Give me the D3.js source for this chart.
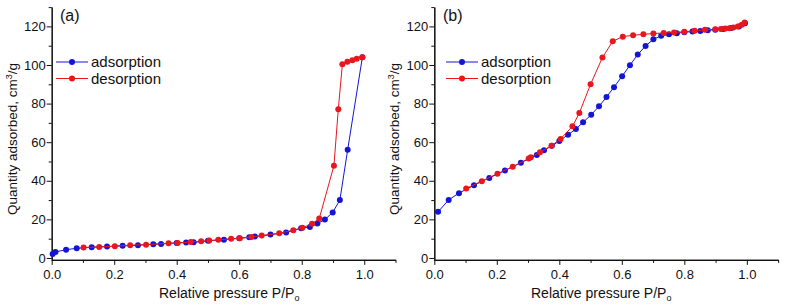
<!DOCTYPE html>
<html>
<head>
<meta charset="utf-8">
<script src="https://cdn.jsdelivr.net/npm/d3@7"></script>
<style>
    body { margin: 0; background: #fff; }
    svg text { font-family: "Liberation Sans", Arial, sans-serif; fill: #111; }
</style>
</head>
<body>
<div id="chart"></div>
<script>

// isotherm points [P/Po, quantity adsorbed cm3/g]
const adsorptionA = [[0.003,2.1],[0.012,3.1],[0.046,4.3],[0.080,5.0],[0.128,5.6],[0.177,5.9],[0.227,6.3],[0.276,6.6],
    [0.325,7.1],[0.350,7.3],[0.400,7.8],[0.430,8.0],[0.454,8.1],[0.500,8.9],[0.551,9.5],[0.600,10.2],[0.632,10.7],
    [0.650,11.1],[0.700,12.1],[0.750,13.2],[0.798,15.4],[0.826,16.1],[0.850,17.8],[0.874,19.9],[0.899,23.6],
    [0.922,30.0],[0.947,56.1],[0.994,104.0]];
const desorptionA = [[0.994,104.0],[0.976,103.2],[0.962,102.5],[0.946,101.7],[0.930,100.4],[0.917,77.1],[0.903,47.8],
    [0.856,20.4],[0.833,17.7],[0.802,15.6],[0.773,14.4],[0.728,12.8],[0.672,11.6],[0.639,10.9],[0.602,10.2],
    [0.574,9.9],[0.533,9.4],[0.504,9.0],[0.478,8.7],[0.445,8.3],[0.403,7.8],[0.374,7.6],[0.302,6.9],[0.251,6.6],
    [0.202,6.1],[0.152,5.7],[0.102,5.4]];

const adsorptionB = [[0.012,23.9],[0.046,30.1],[0.079,33.6],[0.127,37.7],[0.176,41.5],[0.226,45.3],[0.277,49.4],
    [0.328,53.4],[0.351,55.8],[0.376,58.1],[0.400,60.6],[0.428,63.9],[0.453,66.8],[0.476,70.3],[0.502,74.2],
    [0.527,78.6],[0.551,83.4],[0.575,88.5],[0.601,94.2],[0.626,99.9],[0.651,105.4],[0.676,109.9],[0.701,113.3],
    [0.726,115.1],[0.751,115.9],[0.776,116.4],[0.800,117.0],[0.826,117.3],[0.851,117.6],[0.875,118.0],
    [0.899,118.3],[0.925,118.7],[0.950,119.2],[0.975,119.9],[0.994,121.6]];
const desorptionB = [[0.993,122.0],[0.984,120.8],[0.971,119.9],[0.957,119.4],[0.944,119.1],[0.931,118.9],[0.917,118.7],
    [0.899,118.5],[0.866,118.2],[0.833,117.8],[0.800,117.2],[0.767,116.9],[0.734,116.6],[0.701,116.3],[0.669,115.9],
    [0.636,115.4],[0.603,114.7],[0.571,112.3],[0.538,103.9],[0.500,90.0],[0.464,75.1],[0.442,68.2],[0.404,61.7],
    [0.375,58.2],[0.338,54.8],[0.309,52.2],[0.302,51.5],[0.251,47.3],[0.202,43.7],[0.152,39.8],[0.102,36.0]];

const xMajor = [0, 0.2, 0.4, 0.6, 0.8, 1.0];
const xMinor = [0.1, 0.3, 0.5, 0.7, 0.9, 1.1];
const yMajor = [0, 20, 40, 60, 80, 100, 120];
const yMinor = [10, 30, 50, 70, 90, 110, 130];
const seriesNames = ["adsorption", "desorption"];
const panelNames = ["(a)", "(b)"];

const BLUE = "#1414d6";
const RED = "#e8161e";

const svg = d3.select("#chart").append("svg")
    .attr("width", 785)
    .attr("height", 308);

class Isotherm {

    constructor(_svg, _opts) {
        this.svg = _svg;
        this.opts = _opts;
        this.initVis();
    }

    initVis() {
        let vis = this;
        let o = vis.opts;

        vis.g = vis.svg.append("g")
            .attr("transform", `translate(${o.left}, 0)`);

        vis.x = d3.scaleLinear().domain([0, 1.1]).range([0, 343.8]);
        vis.y = d3.scaleLinear().domain([-1, 130]).range([259.9, 7.1]);

        // minor ticks first, majors with labels on top
        vis.g.append("g")
            .attr("transform", "translate(0, 259.9)")
            .call(d3.axisBottom(vis.x).tickValues(xMinor).tickSize(3).tickSizeOuter(0).tickFormat(""));
        vis.g.append("g")
            .attr("class", "x-axis")
            .attr("transform", "translate(0, 259.9)")
            .call(d3.axisBottom(vis.x).tickValues(xMajor).tickSize(5).tickSizeOuter(0).tickPadding(5)
                .tickFormat(d3.format(".1f")));

        vis.g.append("g")
            .call(d3.axisLeft(vis.y).tickValues(yMinor).tickSize(3).tickSizeOuter(0).tickFormat(""));
        vis.g.append("g")
            .attr("class", "y-axis")
            .call(d3.axisLeft(vis.y).tickValues(yMajor).tickSize(5).tickSizeOuter(0).tickPadding(1));

        vis.g.selectAll(".domain").attr("stroke", "#111").attr("stroke-width", 1.1);
        vis.g.selectAll(".tick line").attr("stroke", "#111");
        vis.g.selectAll(".tick text")
            .style("font-size", "13px")
            .style("font-family", '"Liberation Sans", Arial, sans-serif')
            .attr("fill", "#111");

        // axis titles
        let xt = vis.svg.append("text")
            .attr("x", o.xTitleX)
            .attr("y", 298)
            .style("font-size", "14px");
        xt.append("tspan").text("Relative pressure P/P");
        xt.append("tspan").attr("dy", 3).style("font-size", "9px").text("o");

        let yt = vis.svg.append("text")
            .attr("transform", `translate(${o.left - 35}, 139) rotate(-90)`)
            .attr("text-anchor", "middle")
            .style("font-size", "13.5px");
        yt.append("tspan").text("Quantity adsorbed, cm");
        yt.append("tspan").attr("dy", -5).style("font-size", "9px").text("3");
        yt.append("tspan").attr("dy", 5).text("/g");

        vis.svg.append("text")
            .attr("x", o.labelX)
            .attr("y", 21)
            .style("font-size", "16px")
            .text(o.label);

        vis.line = d3.line()
            .x(d => vis.x(d[0]))
            .y(d => vis.y(d[1]));

        vis.drawSeries(o.ads, BLUE);
        vis.drawSeries(o.des, RED);

        // legend
        let leg = vis.svg.append("g")
            .attr("transform", `translate(${o.legendX}, 62)`);
        [BLUE, RED].forEach((c, i) => {
            let row = leg.append("g").attr("transform", `translate(0, ${i * 16.5})`);
            row.append("line")
                .attr("x1", 0).attr("x2", 32)
                .attr("y1", 0).attr("y2", 0)
                .attr("stroke", c)
                .attr("stroke-width", 1);
            row.append("circle")
                .attr("cx", 16).attr("cy", 0).attr("r", 3)
                .attr("fill", c);
            row.append("text")
                .attr("x", 35).attr("y", 5.2)
                .style("font-size", "15px")
                .text(seriesNames[i]);
        });
    }

    drawSeries(data, color) {
        let vis = this;
        vis.g.append("path")
            .datum(data)
            .attr("d", vis.line)
            .attr("fill", "none")
            .attr("stroke", color)
            .attr("stroke-width", 1);
        vis.g.selectAll(null)
            .data(data)
            .enter()
            .append("circle")
            .attr("cx", d => vis.x(d[0]))
            .attr("cy", d => vis.y(d[1]))
            .attr("r", 3)
            .attr("fill", color);
    }
}

new Isotherm(svg, {left: 51.7, ads: adsorptionA, des: desorptionA, label: panelNames[0],
    labelX: 60, legendX: 56, xTitleX: 159});
new Isotherm(svg, {left: 434.3, ads: adsorptionB, des: desorptionB, label: panelNames[1],
    labelX: 443, legendX: 446, xTitleX: 531});

</script>
</body>
</html>
